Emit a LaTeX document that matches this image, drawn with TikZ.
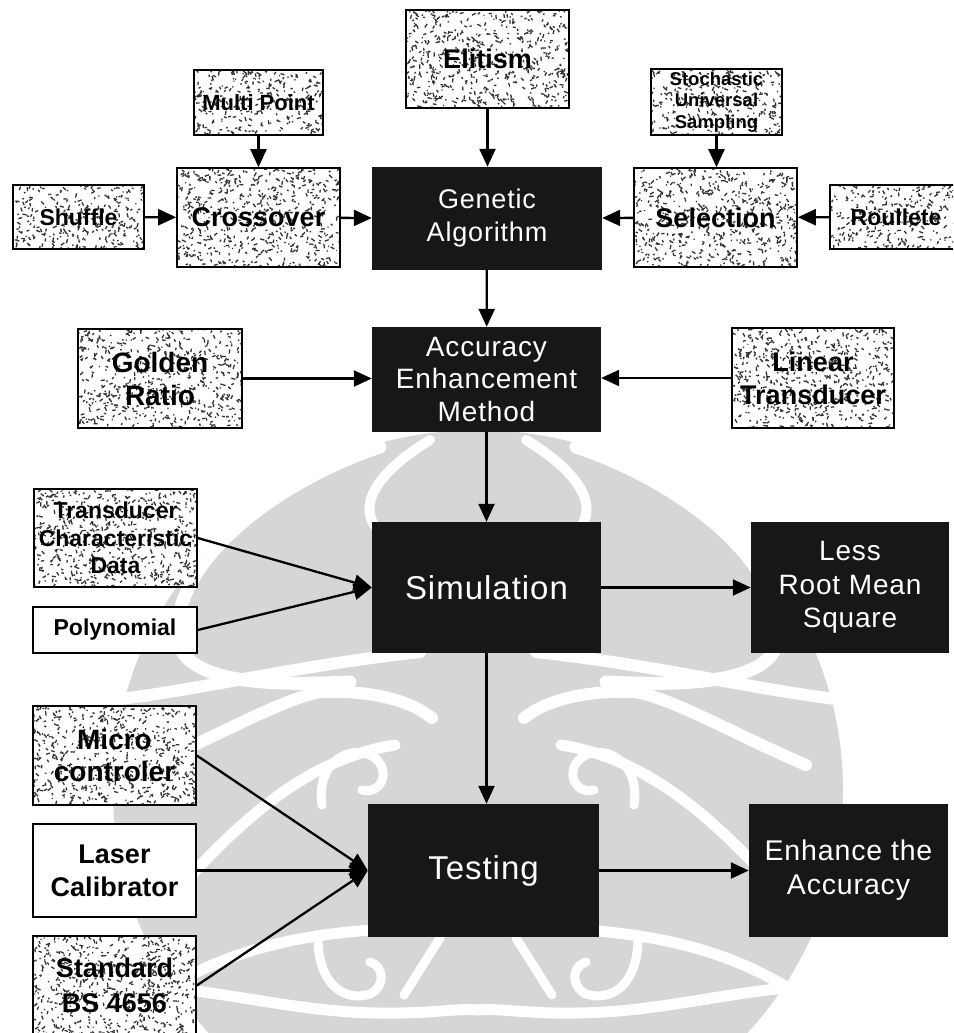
\documentclass[tikz,border=0pt]{standalone}
\usepackage{fontspec}
\setmainfont{Liberation Sans}
\usetikzlibrary{arrows.meta}

\tikzset{
  box/.style={draw=black, line width=1.6pt, fill=white, inner sep=0pt, align=center},
  lbl/.style 2 args={font=\bfseries\fontsize{#1}{#2}\selectfont},
  dark/.style={fill=black!91, draw=none, text=white, inner sep=0pt, align=center},
  dtxt/.style 2 args={font=\fontsize{#1}{#2}\selectfont\addfontfeatures{LetterSpace=3}},
  % stippled box: width, height, number of specks
  stip/.style n args={3}{box, minimum width=#1, minimum height=#2,
    path picture={
      \foreach \k in {1,...,#3}{
        \pgfmathsetmacro\sx{rnd*#1}
        \pgfmathsetmacro\sy{rnd*#2}
        \pgfmathsetmacro\sa{rnd*360}
        \pgfmathsetmacro\sl{1.0+3.4*rnd}
        \draw[line width=1.3pt, black!80]
          ([shift={(\sx,\sy)}]path picture bounding box.north west) -- ++(\sa:\sl);
      }}},
  arr/.style={line width=2.3pt, -{Triangle[length=18pt,width=16pt]}},
  wm/.style={fill=black!16},
  wl/.style={draw=white, line cap=round, line join=round}
}

\begin{document}
\begin{tikzpicture}[x=1pt,y=-1pt]
\pgfmathsetseed{4242}
\useasboundingbox (0,0) rectangle (953,1033);
\clip (0,0) rectangle (953,1033);

% faint emblem in the background
\fill[wm] (478,790) ellipse [x radius=365, y radius=360];
\foreach \s in {1,-1}{
  \begin{scope}[shift={(478,0)}, xscale=\s, shift={(-478,0)}]
    \draw[wl, line width=13pt] (380,447) .. controls (280,480) and (170,560) .. (178,640)
                               .. controls (186,690) and (300,684) .. (350,682);
    \draw[wl, line width=10pt] (430,440) .. controls (380,470) and (355,505) .. (378,530);
    \draw[wl, line width=12pt] (112,700) .. controls (200,690) and (300,665) .. (420,652);
    \draw[wl, line width=12pt] (150,765) .. controls (220,735) and (280,700) .. (320,692)
                               .. controls (370,690) and (410,700) .. (432,718);
    \draw[wl, line width=9pt] (322,805) .. controls (315,760) and (355,742) .. (375,758)
                              .. controls (392,772) and (380,795) .. (362,790);
    \draw[wl, line width=11pt] (395,745) .. controls (300,760) and (230,830) .. (160,910);
    \draw[wl, line width=11pt] (372,930) .. controls (300,935) and (220,950) .. (150,1000);
    \draw[wl, line width=11pt] (125,985) .. controls (220,988) and (290,1012) .. (378,1013)
                               .. controls (430,1014) and (455,1008) .. (478,1010);
    \draw[wl, line width=9pt] (318,938) .. controls (318,985) and (345,1002) .. (370,994)
                              .. controls (386,986) and (384,966) .. (370,962);
    \draw[wl, line width=9pt] (440,938) -- (404,995);
  \end{scope}
}

% genetic algorithm block
\node[stip={163}{98}{560}, lbl={27}{32}] (elit) at (487.5,59) {Elitism};
\node[stip={129}{65}{290}, lbl={22}{26}] (multi) at (258.5,102.5) {Multi Point};
\node[stip={163}{99}{560}, lbl={27}{32}] (cross) at (258.5,217.5) {Crossover};
\node[stip={131}{64}{290}, lbl={23}{27}] (shuf) at (78.5,217) {Shuffle};
\node[dark, minimum width=230, minimum height=103, dtxt={27}{33}] (ga) at (487,218.5) {Genetic\\Algorithm};
\node[stip={131}{66}{290}, lbl={18.5}{21.7}] (stoch) at (716.5,102) {Stochastic\\Universal\\Sampling};
\node[stip={163}{99}{560}, lbl={27}{32}] (sel) at (715.5,217.5) {Selection};
\node[stip={132}{64}{290}, lbl={23}{27}] (roul) at (896,217) {Roullete};

% accuracy enhancement
\node[dark, minimum width=229, minimum height=105, dtxt={28}{33}] (aem) at (486.5,379.5) {Accuracy\\Enhancement\\Method};
\node[stip={164}{99}{560}, lbl={28}{33}] (gold) at (160,378.5) {Golden\\Ratio};
\node[stip={162}{100}{560}, lbl={27}{33}] (lin) at (813,378) {Linear\\Transducer};

% simulation
\node[dark, minimum width=229, minimum height=131, dtxt={33}{38}] (sim) at (486.5,587.5) {Simulation};
\node[stip={163}{98}{560}, lbl={23}{27.5}] (tcd) at (115.5,538) {Transducer\\Characteristic\\Data};
\node[box, minimum width=164, minimum height=46, lbl={23}{27}] (poly) at (115,630) {Polynomial};
\node[dark, minimum width=198, minimum height=131, dtxt={28}{33.5}] (rms) at (850,587.5) {Less\\Root Mean\\Square};

% testing
\node[stip={163}{99}{560}, lbl={28}{32}] (micro) at (114.5,755.5) {Micro\\controler};
\node[box, minimum width=163, minimum height=93, lbl={27}{33}] (laser) at (114.5,870.5) {Laser\\Calibrator};
\node[stip={163}{99}{560}, lbl={27}{35}] (std) at (114.5,985.5) {Standard\\BS 4656};
\node[dark, minimum width=231, minimum height=133, dtxt={33}{38}] (test) at (483.5,870.5) {Testing};
\node[dark, minimum width=199, minimum height=133, dtxt={28.5}{34}] (enh) at (848.5,870.5) {Enhance the\\Accuracy};

% connectors
\draw[arr] (multi) -- (cross);
\draw[arr] (elit.south) -- (elit.south |- ga.north);
\draw[arr] (stoch.south) -- (stoch.south |- sel.north);
\draw[arr] (shuf) -- (cross);
\draw[arr] (cross) -- (ga);
\draw[arr] (sel) -- (ga);
\draw[arr] (roul) -- (sel);
\draw[arr] (ga) -- (aem);
\draw[arr] (gold.east) -- (gold.east -| aem.west);
\draw[arr] (lin.west) -- (lin.west -| aem.east);
\draw[arr] (aem) -- (sim);
\draw[arr] (tcd.east) -- (sim.west);
\draw[arr] (poly.east) -- (sim.west);
\draw[arr] (sim) -- (rms);
\draw[arr] (sim.south) -- (sim.south |- test.north);
\draw[arr] (micro.east) -- (test.west);
\draw[arr] (laser.east) -- (test.west);
\draw[arr] (std.east) -- (test.west);
\draw[arr] (test) -- (enh);
\end{tikzpicture}
\end{document}
